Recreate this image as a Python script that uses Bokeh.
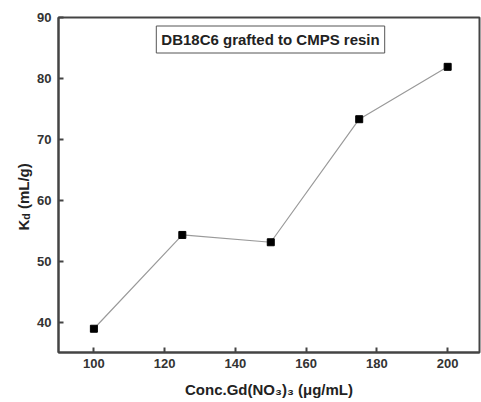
import numpy as np
from bokeh.plotting import figure
from bokeh.layouts import row
from bokeh.models import Label, FixedTicker, Range1d
from bokeh.embed import file_html
from bokeh.resources import INLINE

# ---- data ----
conc = [100, 125, 150, 175, 200]
kd = [38.9, 54.3, 53.1, 73.3, 81.9]
x_ticks = [100, 120, 140, 160, 180, 200]
y_ticks = [40, 50, 60, 70, 80, 90]
title_text = "DB18C6 grafted to CMPS resin"
x_label = "Conc.Gd(NO\u2083)\u2083 (\u03bcg/mL)"
y_label_main, y_label_sub, y_label_unit = "K", "d", "(mL/g)"

FONT = "Liberation Sans"
AX = "#444444"
H = 402
LW = 34  # width of the strip holding the y-axis title

p = figure(width=481 - LW, height=H, output_backend="svg", toolbar_location=None,
           x_range=Range1d(90, 209), y_range=Range1d(35, 90),
           min_border_left=58 - LW, min_border_right=2, min_border_top=17, min_border_bottom=50)
p.grid.visible = False
p.outline_line_color = AX
p.outline_line_width = 2
p.background_fill_color = "white"
p.border_fill_color = "white"

for ax in (p.xaxis[0], p.yaxis[0]):
    ax.axis_line_color = AX
    ax.axis_line_width = 2
    ax.major_tick_line_color = AX
    ax.major_tick_line_width = 2
    ax.major_tick_in = 5
    ax.major_tick_out = 0
    ax.minor_tick_line_color = None
    ax.major_label_text_font = FONT
    ax.major_label_text_font_style = "bold"
    ax.major_label_text_font_size = "13px"
    ax.major_label_text_color = "#333333"
    ax.axis_label_text_font = FONT
    ax.axis_label_text_font_style = "bold"
    ax.axis_label_text_font_size = "15px"
    ax.axis_label_text_color = "#222222"
p.xaxis[0].ticker = FixedTicker(ticks=x_ticks)
p.yaxis[0].ticker = FixedTicker(ticks=y_ticks)
p.xaxis[0].major_label_standoff = 6
p.yaxis[0].major_label_standoff = 7
p.xaxis[0].axis_label = x_label
p.xaxis[0].axis_label_standoff = 10

p.line(conc, kd, line_color="#9a9a9a", line_width=1.2)
p.scatter(conc, kd, marker="square", size=7, fill_color="black", line_color="black")

# title box (screen coords are relative to the plot frame)
p.add_layout(Label(x=212, y=313, x_units="screen", y_units="screen", text=title_text,
                   text_font=FONT, text_font_style="bold", text_font_size="15px",
                   text_color="#222222", text_baseline="middle", text_align="center",
                   border_line_color="#555555", border_line_width=1,
                   background_fill_color="white", padding=5))

# narrow strip on the left carrying the y-axis title K_d (mL/g)
# (its frame is aligned with the main frame: y measured from the frame bottom)
s = figure(width=LW, height=H, output_backend="svg", toolbar_location=None,
           x_axis_type=None, y_axis_type=None,
           min_border_left=0, min_border_right=0, min_border_top=17, min_border_bottom=50)
s.grid.visible = False
s.outline_line_color = None
s.background_fill_color = "white"
s.border_fill_color = "white"

ang = np.pi / 2
def yl(text, x, y, size):
    s.add_layout(Label(x=x, y=y, x_units="screen", y_units="screen", text=text,
                       angle=ang, text_font=FONT, text_font_style="bold",
                       text_font_size=size, text_color="#222222",
                       text_baseline="alphabetic", text_align="left"))
yl(y_label_main, 23, 122, "15px")
yl(y_label_sub, 25.3, 132.8, "10.5px")
yl(y_label_unit, 23, 143.4, "15px")

layout = row(s, p, spacing=0)
open("out.html", "w").write(file_html(layout, INLINE))
